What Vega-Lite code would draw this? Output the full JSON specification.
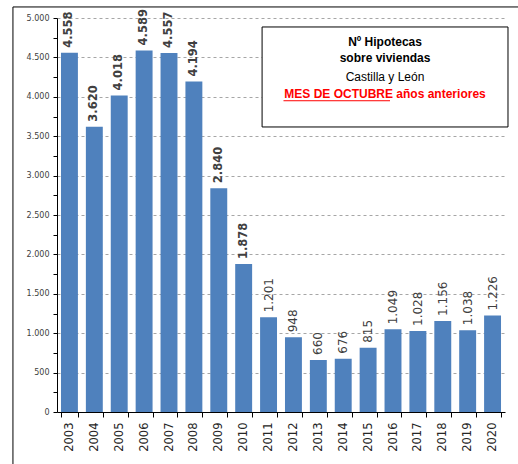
{
  "$schema": "https://vega.github.io/schema/vega-lite/v6.json",
  "width": 448,
  "height": 394,
  "autosize": {"type": "none"},
  "padding": {"left": 57, "top": 18, "right": 13, "bottom": 52},
  "background": "white",
  "config": {
    "locale": {"number": {"decimal": ",", "thousands": ".", "grouping": [3], "currency": ["", " €"]}},
    "view": {"stroke": null},
    "font": "DejaVu Sans"
  },
  "datasets": {
    "hip": [
      {"year": 2003, "hipotecas": 4558},
      {"year": 2004, "hipotecas": 3620},
      {"year": 2005, "hipotecas": 4018},
      {"year": 2006, "hipotecas": 4589},
      {"year": 2007, "hipotecas": 4557},
      {"year": 2008, "hipotecas": 4194},
      {"year": 2009, "hipotecas": 2840},
      {"year": 2010, "hipotecas": 1878},
      {"year": 2011, "hipotecas": 1201},
      {"year": 2012, "hipotecas": 948},
      {"year": 2013, "hipotecas": 660},
      {"year": 2014, "hipotecas": 676},
      {"year": 2015, "hipotecas": 815},
      {"year": 2016, "hipotecas": 1049},
      {"year": 2017, "hipotecas": 1028},
      {"year": 2018, "hipotecas": 1156},
      {"year": 2019, "hipotecas": 1038},
      {"year": 2020, "hipotecas": 1226}
    ],
    "titulo": [
      {"linea": "Nº Hipotecas", "pos": 4700, "tipo": "negrita"},
      {"linea": "sobre viviendas", "pos": 4490, "tipo": "negrita"},
      {"linea": "Castilla y León", "pos": 4250, "tipo": "normal"},
      {"linea": "MES DE OCTUBRE años anteriores", "pos": 4030, "tipo": "rojo"}
    ]
  },
  "layer": [
    {
      "data": {"name": "hip"},
      "encoding": {
        "x": {
          "field": "year",
          "type": "ordinal",
          "scale": {"paddingInner": 0.32, "paddingOuter": 0.16},
          "axis": {
            "title": null,
            "labelAngle": -90,
            "labelFontSize": 11.5,
            "labelColor": "#262626",
            "tickBand": "extent",
            "tickSize": 5,
            "tickColor": "#000000",
            "domainColor": "#000000",
            "labelPadding": 5,
            "grid": false
          }
        },
        "y": {
          "field": "hipotecas",
          "type": "quantitative",
          "scale": {"domain": [0, 5000], "nice": false},
          "axis": {
            "title": null,
            "values": [0, 250, 500, 750, 1000, 1250, 1500, 1750, 2000, 2250, 2500, 2750, 3000, 3250, 3500, 3750, 4000, 4250, 4500, 4750, 5000],
            "format": ",d",
            "labelExpr": "datum.value % 500 === 0 ? datum.label : ''",
            "labelOverlap": false,
            "grid": true,
            "gridDash": [3, 3],
            "gridColor": "#a6a6a6",
            "gridOpacity": {"condition": {"test": "datum.value % 500 === 0 && datum.value > 0", "value": 1}, "value": 0},
            "domainColor": "#000000",
            "tickColor": "#000000",
            "tickSize": 4,
            "labelFontSize": 8,
            "labelColor": "#404040",
            "labelPadding": 4
          }
        }
      },
      "layer": [
        {
          "mark": {"type": "bar", "color": "#4f81bd"}
        },
        {
          "transform": [{"filter": "datum.year <= 2010"}],
          "mark": {"type": "text", "angle": 270, "align": "left", "baseline": "middle", "dx": 5, "fontSize": 11.5, "fontWeight": "bold", "color": "#404040"},
          "encoding": {
            "text": {"field": "hipotecas", "type": "quantitative", "format": ",d"}
          }
        },
        {
          "transform": [{"filter": "datum.year > 2010"}],
          "mark": {"type": "text", "angle": 270, "align": "left", "baseline": "middle", "dx": 5, "fontSize": 12, "fontWeight": "normal", "color": "#404040"},
          "encoding": {
            "text": {"field": "hipotecas", "type": "quantitative", "format": ",d"}
          }
        }
      ]
    },
    {
      "data": {"name": "titulo"},
      "layer": [
        {
          "transform": [{"filter": "datum.tipo === 'normal'"}],
          "mark": {"type": "rect", "fill": "white", "stroke": "#000000", "strokeWidth": 1},
          "encoding": {
            "x": {"datum": 8.24, "type": "quantitative", "scale": {"domain": [0, 18], "nice": false, "zero": false}, "axis": null},
            "x2": {"datum": 18.12},
            "y": {"datum": 4886, "type": "quantitative", "scale": {"domain": [0, 5000], "nice": false}, "axis": null},
            "y2": {"datum": 3617}
          }
        },
        {
          "transform": [{"filter": "datum.tipo === 'normal'"}],
          "mark": {"type": "rule", "color": "#000000", "strokeWidth": 1},
          "encoding": {
            "x": {"datum": -1.77, "type": "quantitative"},
            "y": {"datum": 5140, "type": "quantitative"},
            "y2": {"datum": -700}
          }
        },
        {
          "transform": [{"filter": "datum.tipo === 'normal'"}],
          "mark": {"type": "rule", "color": "#000000", "strokeWidth": 1},
          "encoding": {
            "x": {"datum": -1.77, "type": "quantitative"},
            "x2": {"datum": 18.7},
            "y": {"datum": 5140, "type": "quantitative"}
          }
        },
        {
          "transform": [{"filter": "datum.tipo === 'rojo'"}],
          "mark": {"type": "rule", "color": "#ff0000", "strokeWidth": 1},
          "encoding": {
            "x": {"datum": 9.1, "type": "quantitative"},
            "x2": {"datum": 13.38},
            "y": {"datum": 3950, "type": "quantitative"}
          }
        },
        {
          "transform": [{"filter": "datum.tipo !== 'normal'"}],
          "mark": {"type": "text", "align": "center", "baseline": "middle", "font": "Liberation Sans", "fontSize": 12, "fontWeight": "bold"},
          "encoding": {
            "x": {"datum": 13.18, "type": "quantitative"},
            "y": {"field": "pos", "type": "quantitative"},
            "text": {"field": "linea", "type": "nominal"},
            "color": {"field": "tipo", "type": "nominal", "scale": {"domain": ["negrita", "normal", "rojo"], "range": ["#000000", "#000000", "#ff0000"]}, "legend": null}
          }
        },
        {
          "transform": [{"filter": "datum.tipo === 'normal'"}],
          "mark": {"type": "text", "align": "center", "baseline": "middle", "font": "Liberation Sans", "fontSize": 12, "fontWeight": "normal", "color": "#000000"},
          "encoding": {
            "x": {"datum": 13.18, "type": "quantitative"},
            "y": {"field": "pos", "type": "quantitative"},
            "text": {"field": "linea", "type": "nominal"}
          }
        }
      ]
    }
  ],
  "resolve": {"scale": {"x": "independent", "y": "independent"}, "axis": {"x": "independent", "y": "independent"}}
}
